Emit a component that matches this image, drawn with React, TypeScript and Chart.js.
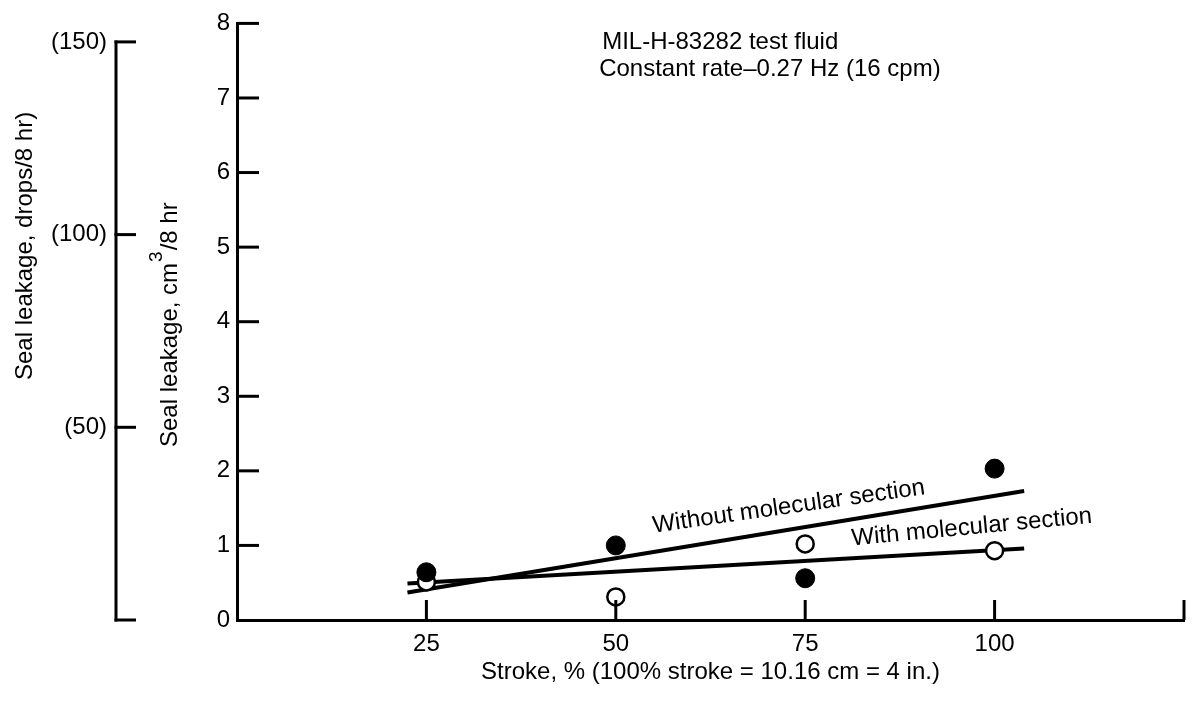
import React, { useEffect, useRef } from "react";
import { Chart, registerables } from "chart.js";

Chart.register(...registerables);

// ---- data ----
const strokePct = [25, 50, 75, 100];
const leakWithout = [0.64, 1.0, 0.56, 2.03];
const leakWith = [0.51, 0.31, 1.02, 0.93];
const fitStroke = [22.5, 103.9];
const fitWithout = [0.37, 1.73];
const fitWith = [0.49, 0.96];

const xTicks = [25, 50, 75, 100, 125];
const xTickLabels = ["25", "50", "75", "100", ""];
const cmTicks = [0, 1, 2, 3, 4, 5, 6, 7, 8];
const dropTicks = [0, 50, 100, 150];
const dropTickLabels = ["", "(50)", "(100)", "(150)"];

const FONT = '"Liberation Sans", Arial, Helvetica, sans-serif';
const FS = 24;

function line(ctx: CanvasRenderingContext2D, x1: number, y1: number, x2: number, y2: number) {
  ctx.beginPath();
  ctx.moveTo(x1, y1);
  ctx.lineTo(x2, y2);
  ctx.stroke();
}

function rotText(ctx: CanvasRenderingContext2D, text: string, px: number, py: number, deg: number) {
  ctx.save();
  ctx.translate(px, py);
  ctx.rotate((deg * Math.PI) / 180);
  ctx.textAlign = "left";
  ctx.textBaseline = "alphabetic";
  ctx.fillText(text, 0, 0);
  ctx.restore();
}

const overlay = {
  id: "overlay",
  afterDraw(chart: any) {
    const { ctx, scales } = chart;
    const xs = scales.x;
    const ys = scales.y;
    const ds = scales.y2;
    ctx.save();
    ctx.strokeStyle = "#000";
    ctx.fillStyle = "#000";
    ctx.lineWidth = 3;
    ctx.lineCap = "butt";

    // drops axis line (0 .. 150)
    const ax2 = ds.right;
    line(ctx, ax2, ds.getPixelForValue(0) + 1.5, ax2, ds.getPixelForValue(150) - 1.5);
    dropTicks.forEach((v) => {
      const py = ds.getPixelForValue(v);
      line(ctx, ax2 - 1.5, py, ax2 + 20, py);
    });

    // cm3 axis inward ticks
    const ax = ys.right;
    cmTicks.forEach((v) => {
      if (v === 0) return;
      const py = ys.getPixelForValue(v);
      line(ctx, ax, py, ax + 22, py);
    });

    // x axis inward ticks
    xTicks.forEach((v) => {
      const px = xs.getPixelForValue(v);
      line(ctx, px, xs.top, px, xs.top - 20);
    });

    // axis titles
    ctx.font = `${FS}px ${FONT}`;
    rotText(ctx, "Seal leakage, drops/8 hr)", ds.left + 32, 380, -90);

    ctx.save();
    ctx.translate(ds.right + 61, 447);
    ctx.rotate(-Math.PI / 2);
    ctx.textAlign = "left";
    ctx.textBaseline = "alphabetic";
    const p1 = "Seal leakage, cm";
    ctx.font = `${FS}px ${FONT}`;
    ctx.fillText(p1, 0, 0);
    let w = ctx.measureText(p1).width;
    ctx.font = `19px ${FONT}`;
    ctx.fillText("3", w + 1, -15);
    w += ctx.measureText("3").width + 2;
    ctx.font = `${FS}px ${FONT}`;
    ctx.fillText("/8 hr", w, 0);
    ctx.restore();

    // annotations
    ctx.font = `${FS}px ${FONT}`;
    ctx.textAlign = "left";
    ctx.textBaseline = "alphabetic";
    ctx.fillText("MIL-H-83282 test fluid", xs.getPixelForValue(48.2), ys.getPixelForValue(7.66));
    ctx.fillText("Constant rate\u20130.27 Hz (16 cpm)", xs.getPixelForValue(47.8), ys.getPixelForValue(7.3));

    rotText(ctx, "Without molecular section", xs.getPixelForValue(55.0), ys.getPixelForValue(1.17), -8.1);
    rotText(ctx, "With molecular section", xs.getPixelForValue(81.2), ys.getPixelForValue(1.0), -5.4);

    ctx.restore();
  },
};

export default function App() {
  const ref = useRef<HTMLCanvasElement>(null);

  useEffect(() => {
    const font = { family: FONT, size: FS };
    const chart = new Chart(ref.current as HTMLCanvasElement, {
      type: "scatter",
      data: {
        datasets: [
          {
            label: "Without molecular section (fit)",
            data: fitStroke.map((x, i) => ({ x, y: fitWithout[i] })),
            showLine: true,
            borderColor: "#000",
            borderWidth: 4,
            pointRadius: 0,
            order: 2,
          },
          {
            label: "With molecular section (fit)",
            data: fitStroke.map((x, i) => ({ x, y: fitWith[i] })),
            showLine: true,
            borderColor: "#000",
            borderWidth: 4,
            pointRadius: 0,
            order: 2,
          },
          {
            label: "Without molecular section",
            data: strokePct.map((x, i) => ({ x, y: leakWithout[i] })),
            backgroundColor: "#000",
            borderColor: "#000",
            borderWidth: 1,
            pointRadius: 9.5,
            order: 1,
          },
          {
            label: "With molecular section",
            data: strokePct.map((x, i) => ({ x, y: leakWith[i] })),
            backgroundColor: "#fff",
            borderColor: "#000",
            borderWidth: 2.5,
            pointRadius: 8.5,
            order: 1,
          },
        ],
      },
      options: {
        animation: false,
        responsive: false,
        devicePixelRatio: 1,
        layout: { padding: { top: 19, right: 3, bottom: 0, left: 0 } },
        plugins: {
          legend: { display: false },
          tooltip: { enabled: false },
        },
        scales: {
          x: {
            type: "linear",
            position: "bottom",
            min: 0,
            max: 125,
            afterBuildTicks: (s: any) => {
              s.ticks = xTicks.map((v) => ({ value: v }));
            },
            afterFit: (s: any) => {
              s.height = 81;
            },
            ticks: {
              font,
              color: "#000",
              padding: 10,
              maxRotation: 0,
              autoSkip: false,
              callback: (v: any) => {
                const i = xTicks.indexOf(Number(v));
                return i >= 0 ? xTickLabels[i] : "";
              },
            },
            grid: { display: false, drawTicks: false },
            border: { display: true, color: "#000", width: 3 },
            title: {
              display: true,
              text: "Stroke, % (100% stroke = 10.16 cm = 4 in.)",
              font,
              color: "#000",
              padding: { top: 0, bottom: 14 },
            },
          },
          y: {
            type: "linear",
            position: "left",
            weight: 0,
            min: 0,
            max: 8,
            afterBuildTicks: (s: any) => {
              s.ticks = cmTicks.map((v) => ({ value: v }));
            },
            afterFit: (s: any) => {
              s.width = 121;
            },
            ticks: { font, color: "#000", padding: 7, callback: (v: any) => String(v) },
            grid: { display: false, drawTicks: false },
            border: { display: true, color: "#000", width: 3 },
          },
          y2: {
            type: "linear",
            position: "left",
            weight: 1,
            min: 0,
            max: 154.8,
            afterBuildTicks: (s: any) => {
              s.ticks = dropTicks.map((v) => ({ value: v }));
            },
            afterFit: (s: any) => {
              s.width = 116;
            },
            ticks: {
              font,
              color: "#000",
              padding: 9,
              callback: (v: any) => {
                const i = dropTicks.indexOf(Number(v));
                return i >= 0 ? dropTickLabels[i] : "";
              },
            },
            grid: { display: false, drawTicks: false },
            border: { display: false },
          },
        },
      },
      plugins: [overlay],
    } as any);
    return () => chart.destroy();
  }, []);

  return (
    <div style={{ position: "absolute", left: 0, top: 0, width: 1195, height: 701, background: "#fff" }}>
      <canvas ref={ref} width={1195} height={701} style={{ display: "block", width: 1195, height: 701 }} />
    </div>
  );
}
